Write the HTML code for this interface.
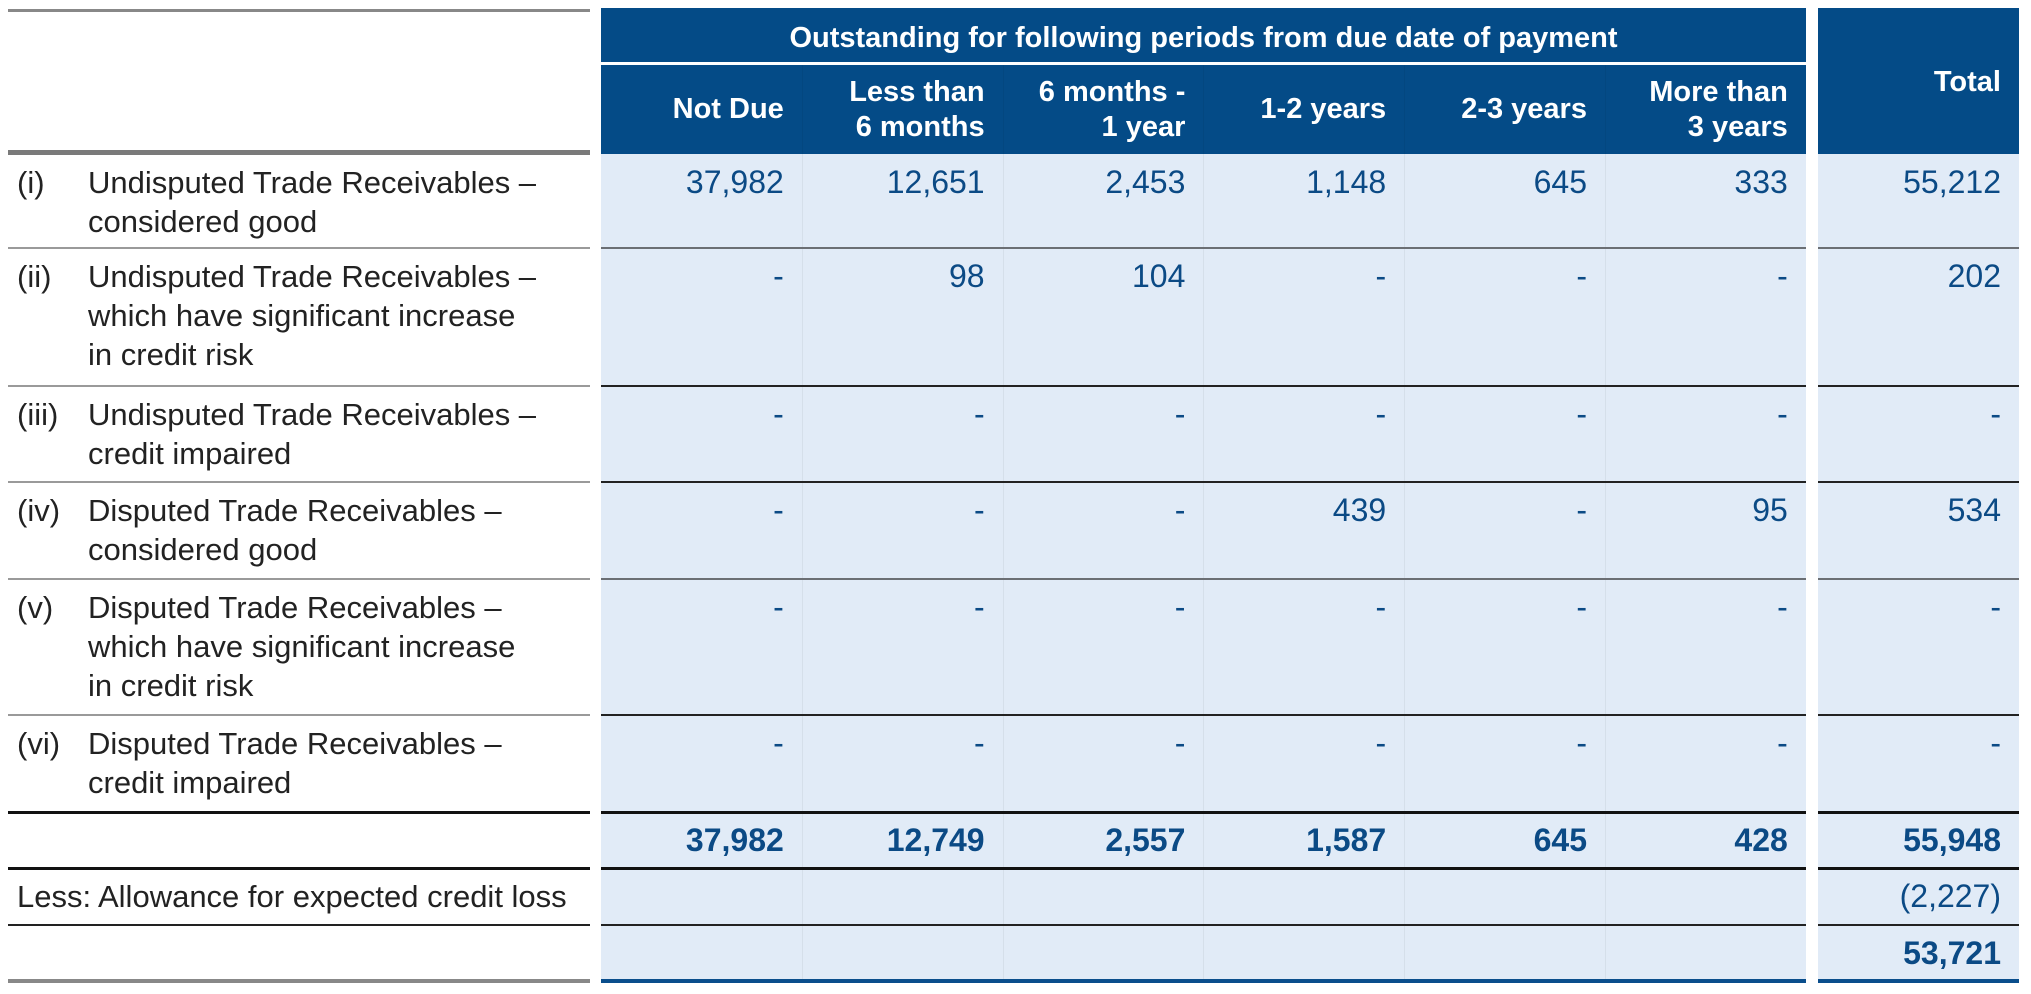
<!DOCTYPE html>
<html><head><meta charset="utf-8"><style>
body{margin:0;width:2031px;height:994px;background:#fff;position:relative;overflow:hidden;font-family:"Liberation Sans",sans-serif;}
.a{position:absolute;}
.hd{background:#044b87;}
.lt{background:#e1ebf7;}
.t{position:absolute;font-size:31px;line-height:39px;white-space:nowrap;}
.n{color:#0b4a85;text-align:right;font-size:32px;}
.w{color:#fff;font-weight:bold;font-size:29px;line-height:35px;text-align:right;}
.l{color:#222;}
.b{font-weight:bold;}
</style></head><body>
<div class="a hd" style="left:601px;top:8px;width:1205px;height:146px"></div>
<div class="a hd" style="left:1818px;top:8px;width:201px;height:146px"></div>
<div class="a" style="left:601px;top:62px;width:1205px;height:3px;background:#fff"></div>
<div class="a lt" style="left:601px;top:154px;width:1205px;height:828px"></div>
<div class="a lt" style="left:1818px;top:154px;width:201px;height:828px"></div>
<div class="t w" style="left:601px;top:21px;width:1205px;text-align:center">Outstanding for following periods from due date of payment</div>
<div class="t w" style="left:1818px;top:65px;width:183px">Total</div>
<div id="root"></div>
<script>
const colHeaders=[["Not Due"],["Less than","6 months"],["6 months -","1 year"],["1-2 years"],["2-3 years"],["More than","3 years"]];
const rowNums=["(i)","(ii)","(iii)","(iv)","(v)","(vi)"];
const rowLabels=[["Undisputed Trade Receivables –","considered good"],["Undisputed Trade Receivables –","which have significant increase","in credit risk"],["Undisputed Trade Receivables –","credit impaired"],["Disputed Trade Receivables –","considered good"],["Disputed Trade Receivables –","which have significant increase","in credit risk"],["Disputed Trade Receivables –","credit impaired"]];
const values=[["37,982","12,651","2,453","1,148","645","333","55,212"],["-","98","104","-","-","-","202"],["-","-","-","-","-","-","-"],["-","-","-","439","-","95","534"],["-","-","-","-","-","-","-"],["-","-","-","-","-","-","-"]];
const totals=["37,982","12,749","2,557","1,587","645","428","55,948"];
const allowance="(2,227)";
const net="53,721";
const rowTops=[154,248,386,482,579,715,812,868,925,982];
const X0=601,CW=200.8;
const root=document.getElementById('root');
function txt(cls,x,y,w,s){const d=document.createElement('div');d.className='t '+cls;d.style.left=x+'px';d.style.top=y+'px';if(w)d.style.width=w+'px';d.innerHTML=s;root.appendChild(d);return d;}
function line(x,y,w,h,c){const d=document.createElement('div');d.className='a';d.style.cssText='left:'+x+'px;top:'+y+'px;width:'+w+'px;height:'+h+'px;background:'+c;root.appendChild(d);return d;}
colHeaders.forEach((h,i)=>{
  const y=h.length==1?92:75;
  const d=txt('w',X0+i*CW,y,CW-18,h.join('<br>'));
  
  
});
for(let i=1;i<6;i++){const s=line(X0+i*CW,65,1,917,'rgba(0,0,0,0.05)');

}
function cell(v,ci,y,bold){
  const x=ci<6?X0+ci*CW:1818;const w=ci<6?CW-18:183;
  const d=txt('n'+(bold?' b':''),x,y,w,v);
  
  
}
rowLabels.forEach((lab,r)=>{
  const y=rowTops[r]+9;
  const a=txt('l',17,y,0,rowNums[r]);
  
  
  const b=txt('l',88,y,0,lab.join('<br>'));
  
  
  values[r].forEach((v,c)=>cell(v,c,y,false));
});
totals.forEach((v,c)=>cell(v,c,rowTops[6]+9,true));
const la=txt('l',17,rowTops[7]+9,0,'Less: Allowance for expected credit loss');


cell(allowance,6,rowTops[7]+9,false);
cell(net,6,rowTops[8]+9,true);
const segs=[[8,582],[601,1205],[1818,201]];
function hl(y,h,cl,cr){segs.forEach((s,i)=>{const e=line(s[0],y,s[1],h,i==0?cl:cr);

});}
line(8,9,582,3,'#888');
line(8,150,582,5,'#7a7a7a');
for(let r=1;r<=5;r++){hl(rowTops[r]-1,2,'#9a9a9a',r==1||r==4?'#6b6f74':'#222');}
hl(rowTops[6]-1,3,'#111','#111');
hl(rowTops[7]-1,3,'#111','#111');
hl(rowTops[8]-1,2,'#222','#222');
line(8,979,582,4,'#888');
line(601,979,1205,4,'#0a4e8c');
line(1818,979,201,4,'#0a4e8c');
</script>
</body></html>
